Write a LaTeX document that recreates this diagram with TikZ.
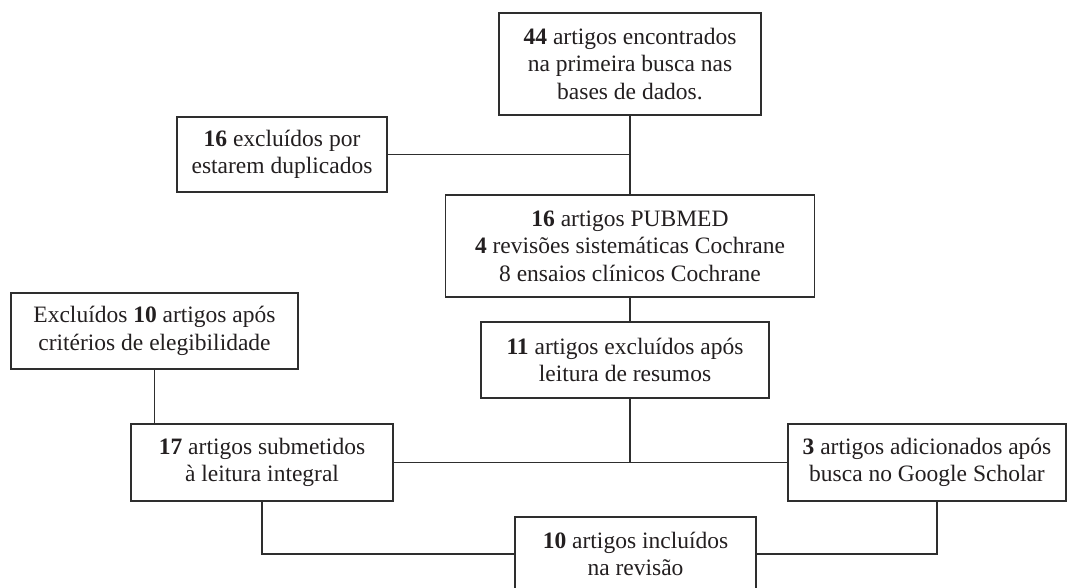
\documentclass[tikz,border=0pt]{standalone}
\usepackage{fontspec}
\setmainfont{Liberation Serif}
\definecolor{ink}{HTML}{231F20}
\definecolor{rule}{HTML}{2E2E2E}
\begin{document}
\begin{tikzpicture}[x=1pt,y=-1pt,
  box/.style={draw=rule,line width=1.3pt,fill=white,text=ink,align=center,inner sep=0pt,
    font=\fontsize{23.5}{27.5}\selectfont},
  link/.style={draw=rule,line width=1.3pt}]
\useasboundingbox (0,0) rectangle (1074,587);
\node[box,minimum width=262pt,minimum height=102pt] (b1) at (630,64) {\textbf{44} artigos encontrados\\na primeira busca nas\\bases de dados.};
\node[box,minimum width=210pt,minimum height=75pt] (b2) at (282,154.5) {\textbf{16} excluídos por\\estarem duplicados};
\node[box,minimum width=369pt,minimum height=102pt] (b3) at (630,246) {\textbf{16} artigos PUBMED\\\textbf{4} revisões sistemáticas Cochrane\\8 ensaios clínicos Cochrane};
\node[box,minimum width=287pt,minimum height=76pt] (b4) at (154.5,331) {Excluídos \textbf{10} artigos após\\critérios de elegibilidade};
\node[box,minimum width=288pt,minimum height=76pt] (b5) at (625,360) {\textbf{11} artigos excluídos após\\leitura de resumos};
\node[box,minimum width=262pt,minimum height=77pt] (b6) at (262,462.5) {\textbf{17} artigos submetidos\\à leitura integral};
\node[box,minimum width=278pt,minimum height=77pt] (b7) at (927,462.5) {\textbf{3} artigos adicionados após\\busca no Google Scholar};
\node[box,minimum width=241pt,minimum height=74pt] (b8) at (635.5,554) {\textbf{10} artigos incluídos\\na revisão};
\coordinate (j1) at (b2.east -| b1.south);
\coordinate (j2) at (b6.east -| b1.south);
\coordinate (c6) at (b6.south |- b8.west);
\coordinate (t7) at (937,501);
\coordinate (c7) at (t7 |- b8.east);
\draw[link] (b1.south) -- (b3.north);
\draw[link] (b2.east) -- (j1);
\draw[link] (b3.south) -- (b3.south |- b5.north);
\draw[link] (b3.south |- b5.south) -- (j2);
\draw[link] (b6.east) -- (b7.west);
\draw[link] (b4.south) -- (b4.south |- b6.north);
\draw[link] (b6.south) -- (c6) -- (b8.west);
\draw[link] (t7) -- (c7) -- (b8.east);
\end{tikzpicture}
\end{document}
